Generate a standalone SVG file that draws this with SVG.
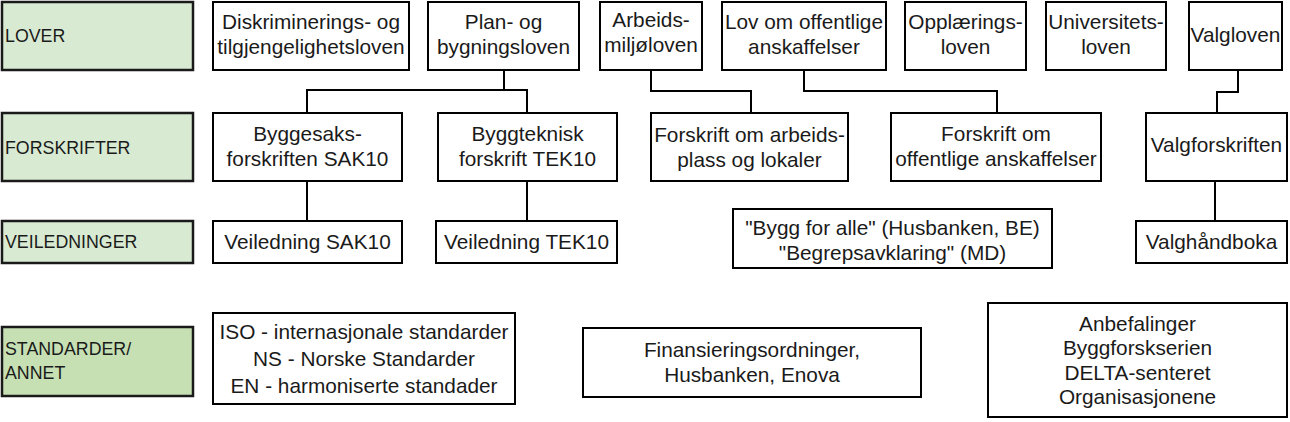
<svg xmlns="http://www.w3.org/2000/svg" width="1290" height="422" viewBox="0 0 1290 422">
<style>
.box{fill:#fff;stroke:#000;stroke-width:2}
.lbl{fill:#d9ead3;stroke:#1a1a1a;stroke-width:2.5}
.lbl2{fill:#c6e0b4;stroke:#1a1a1a;stroke-width:2.5}
text{font-family:"Liberation Sans",Arial,sans-serif;font-size:20.8px;fill:#1a1a1a}
.c{text-anchor:middle}
.l{font-size:17.8px}
.con{fill:none;stroke:#000;stroke-width:2}
</style>
<rect width="1290" height="422" fill="#fff"/>
<g id="connectors">
<polyline class="con" points="504,70 504,90 307,90 307,113"/>
<polyline class="con" points="504,90 527,90 527,113"/>
<polyline class="con" points="651,70 651,91 751,91 751,113"/>
<polyline class="con" points="804,70 804,91 997,91 997,113"/>
<polyline class="con" points="1238,70 1238,92 1217,92 1217,113"/>
<line class="con" x1="307" y1="181" x2="307" y2="221"/>
<line class="con" x1="527" y1="181" x2="527" y2="221"/>
<line class="con" x1="1215" y1="181" x2="1215" y2="221"/>
</g>
<g id="lbl-lover"><rect class="lbl" x="2" y="2" width="191" height="68"/><text class="l" x="5" y="42">LOVER</text></g>
<g id="lbl-forskrifter"><rect class="lbl" x="2" y="113" width="191" height="68"/><text class="l" x="5" y="154">FORSKRIFTER</text></g>
<g id="lbl-veiledninger"><rect class="lbl" x="2" y="221" width="191" height="42"/><text class="l" x="5" y="248">VEILEDNINGER</text></g>
<g id="lbl-standarder"><rect class="lbl2" x="2" y="327" width="191" height="69"/><text class="l" x="5" y="355">STANDARDER/</text><text class="l" x="5" y="379">ANNET</text></g>

<g id="n-diskr"><rect class="box" x="213" y="2" width="196" height="68"/><text class="c" x="311" y="29">Diskriminerings- og</text><text class="c" x="311" y="54">tilgjengelighetsloven</text></g>
<g id="n-pbl"><rect class="box" x="428" y="2" width="151" height="68"/><text class="c" x="503.5" y="29">Plan- og</text><text class="c" x="503.5" y="54">bygningsloven</text></g>
<g id="n-aml"><rect class="box" x="600" y="2" width="102" height="68"/><text class="c" x="651" y="27">Arbeids-</text><text class="c" x="651" y="52">miljøloven</text></g>
<g id="n-loa"><rect class="box" x="722" y="2" width="164" height="68"/><text class="c" x="804" y="29">Lov om offentlige</text><text class="c" x="804" y="54">anskaffelser</text></g>
<g id="n-oppl"><rect class="box" x="905" y="2" width="121" height="68"/><text class="c" x="965.5" y="29">Opplærings-</text><text class="c" x="965.5" y="54">loven</text></g>
<g id="n-univ"><rect class="box" x="1046" y="2" width="120" height="68"/><text class="c" x="1106" y="29">Universitets-</text><text class="c" x="1106" y="54">loven</text></g>
<g id="n-valg"><rect class="box" x="1189" y="2" width="93" height="68"/><text class="c" x="1235.5" y="42">Valgloven</text></g>

<g id="n-sak10"><rect class="box" x="213" y="113" width="189" height="68"/><text class="c" x="307.5" y="141">Byggesaks-</text><text class="c" x="307.5" y="166">forskriften SAK10</text></g>
<g id="n-tek10"><rect class="box" x="438" y="113" width="179" height="68"/><text class="c" x="527.5" y="141">Byggteknisk</text><text class="c" x="527.5" y="166">forskrift TEK10</text></g>
<g id="n-fal"><rect class="box" x="651" y="113" width="197" height="68"/><text class="c" x="749.5" y="142">Forskrift om arbeids-</text><text class="c" x="749.5" y="167">plass og lokaler</text></g>
<g id="n-foa"><rect class="box" x="891" y="113" width="210" height="68"/><text class="c" x="996" y="141">Forskrift om</text><text class="c" x="996" y="166">offentlige anskaffelser</text></g>
<g id="n-valgf"><rect class="box" x="1146" y="113" width="141" height="68"/><text class="c" x="1216.5" y="152">Valgforskriften</text></g>

<g id="n-vsak"><rect class="box" x="213" y="221" width="189" height="42"/><text class="c" x="307.5" y="249">Veiledning SAK10</text></g>
<g id="n-vtek"><rect class="box" x="436" y="221" width="181" height="42"/><text class="c" x="526.5" y="249">Veiledning TEK10</text></g>
<g id="n-bygg"><rect class="box" x="733" y="209" width="319" height="59"/><text class="c" x="892.5" y="235">"Bygg for alle" (Husbanken, BE)</text><text class="c" x="892.5" y="260">"Begrepsavklaring" (MD)</text></g>
<g id="n-valgh"><rect class="box" x="1136" y="221" width="151" height="42"/><text class="c" x="1211.5" y="249">Valghåndboka</text></g>

<g id="n-iso"><rect class="box" x="213" y="313" width="302" height="91"/><text class="c" x="364" y="339">ISO - internasjonale standarder</text><text class="c" x="364" y="366">NS - Norske Standarder</text><text class="c" x="364" y="393">EN - harmoniserte standader</text></g>
<g id="n-fin"><rect class="box" x="583" y="328" width="338" height="69"/><text class="c" x="752" y="357">Finansieringsordninger,</text><text class="c" x="752" y="382">Husbanken, Enova</text></g>
<g id="n-anb"><rect class="box" x="988" y="303" width="299" height="114"/><text class="c" x="1137.5" y="331">Anbefalinger</text><text class="c" x="1137.5" y="355">Byggforskserien</text><text class="c" x="1137.5" y="380">DELTA-senteret</text><text class="c" x="1137.5" y="404">Organisasjonene</text></g>
</svg>
